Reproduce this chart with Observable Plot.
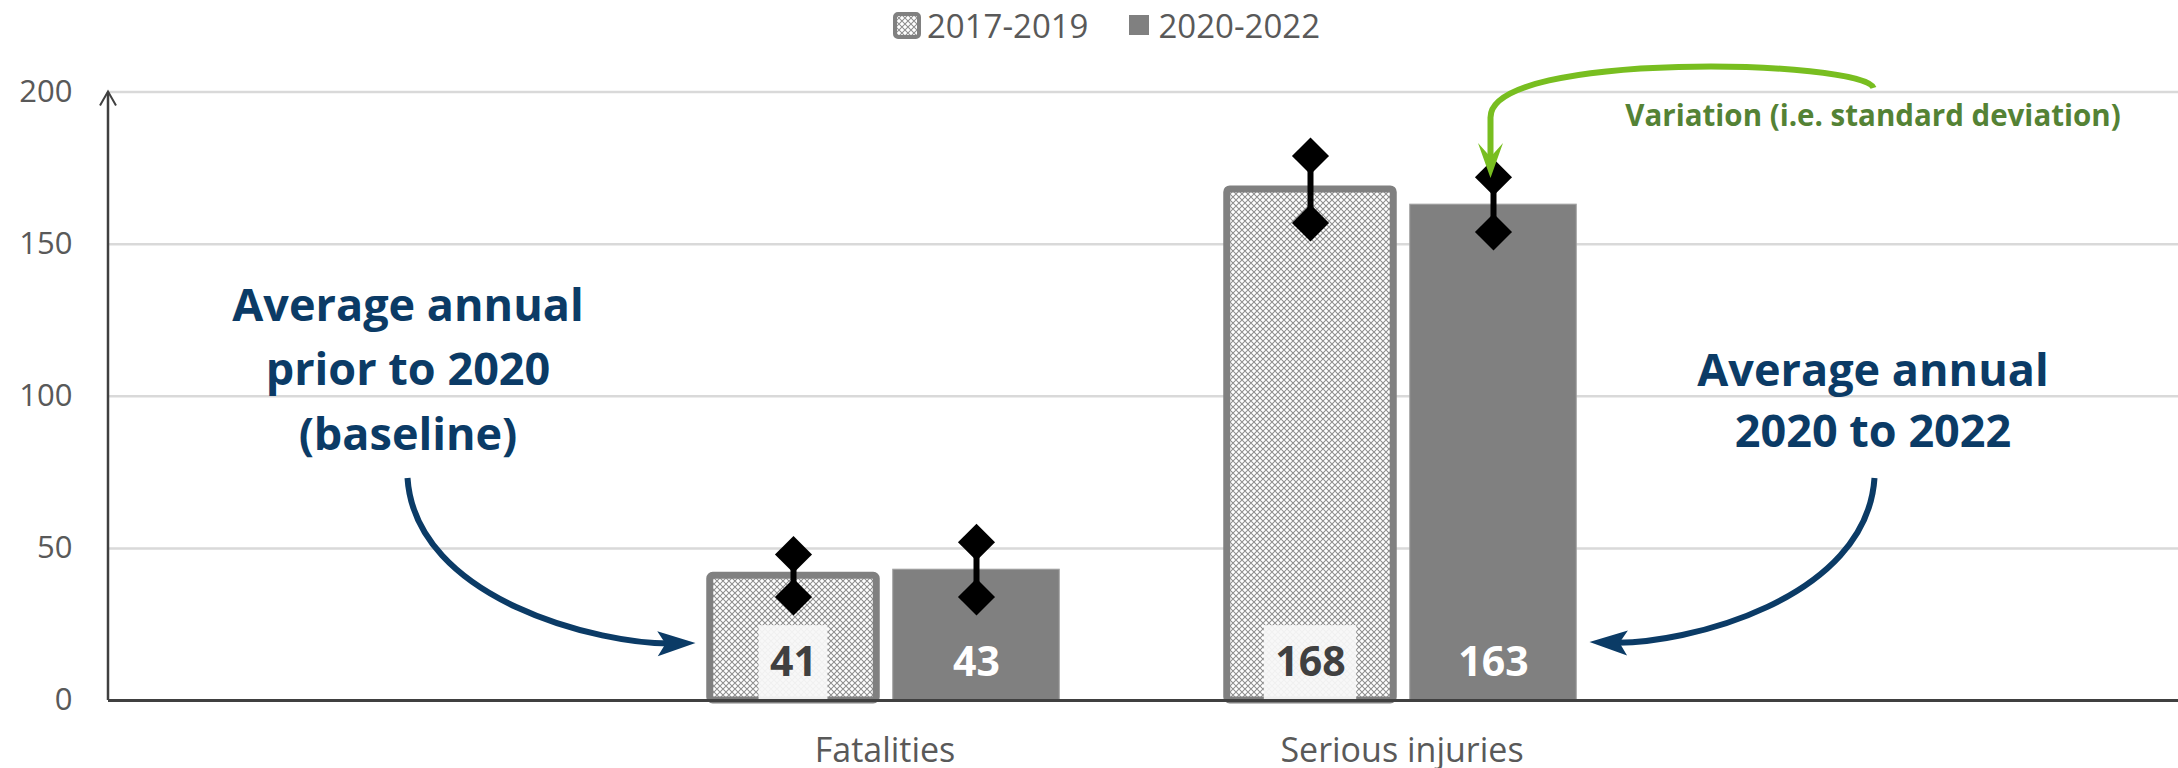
<!DOCTYPE html>
<html>
<head>
<meta charset="utf-8">
<script src="https://cdn.jsdelivr.net/npm/d3@7"></script>
<script src="https://cdn.jsdelivr.net/npm/@observablehq/plot@0.6"></script>
<style>
  html, body { margin: 0; padding: 0; background: #fff; }
  body { width: 2178px; height: 768px; overflow: hidden; font-family: "Open Sans", sans-serif; }
  #legend { height: 50px; display: flex; align-items: center; justify-content: center; padding-left: 35px; box-sizing: border-box; font-size: 33px; color: #595959; }
  #legend svg { display: block; }
  #legend .s1 { margin-right: 6px; }
  #legend .t1 { margin-right: 40px; }
  #legend .s2 { margin-right: 10px; }
</style>
</head>
<body>
<div id="legend"></div>
<div id="chart"></div>
<script>
// ---------- data ----------
const categories = ["Fatalities", "Serious injuries"];
const series = ["2017-2019", "2020-2022"];
const avg2017to2019 = [41, 168];
const avg2020to2022 = [43, 163];
const sd2017to2019 = [7, 11];
const sd2020to2022 = [9, 9];
const yTicks = [0, 50, 100, 150, 200];

// ---------- annotation texts ----------
const noteBaselineText = "Average annual\nprior to 2020\n(baseline)";
const noteRecentText = "Average annual\n2020 to 2022";
const noteVariationText = "Variation (i.e. standard deviation)";

// ---------- rows built from the arrays ----------
const rowsA = categories.map((c, i) => ({category: c, series: series[0], value: avg2017to2019[i], low: avg2017to2019[i] - sd2017to2019[i], high: avg2017to2019[i] + sd2017to2019[i]}));
const rowsB = categories.map((c, i) => ({category: c, series: series[1], value: avg2020to2022[i], low: avg2020to2022[i] - sd2020to2022[i], high: avg2020to2022[i] + sd2020to2022[i]}));

// ---------- layout ----------
const W = 2178, H = 718, ML = 108, MR = 0, MT = 41.6, MB = 68;
const padL = "pad-left", padR = "pad-right";
const xDomain = [padL, ...categories, padR];
const band = (W - ML - MR) / xDomain.length;
const barW = 167, offset = 91.5;
const nearInset = band / 2 - offset - barW / 2;
const farInset = band / 2 + offset - barW / 2;

const blue = "#0b3b66", green = "#78be20", greenText = "#548235";

const hatchDef = `<pattern id="hatch" patternUnits="userSpaceOnUse" width="6" height="6"><rect width="6" height="6" fill="#ffffff"/><path d="M-1,-1L7,7M7,-1L-1,7" stroke="#8f8f8f" stroke-width="1.05"/></pattern>`;

// ---------- legend (HTML, above the SVG) ----------
document.getElementById("legend").innerHTML = `
  <svg class="s1" width="28" height="27"><defs>${hatchDef.replace('id="hatch"','id="hatchL"')}</defs>
    <rect x="2" y="2" width="24" height="23" rx="3" fill="url(#hatchL)" stroke="#808080" stroke-width="4"/></svg>
  <span class="t1">${series[0]}</span>
  <svg class="s2" width="20" height="20"><rect width="20" height="20" fill="#808080"/></svg>
  <span>${series[1]}</span>`;

// ---------- helper marks ----------
function labelBoxes(index, scales) {
  const bw = scales.x.bandwidth ? scales.x.bandwidth() : band;
  const g = d3.create("svg:g");
  for (const d of rowsA) {
    const cx = scales.x(d.category) + bw / 2 - offset;
    const w = 0.572 * 41 * String(d.value).length + 22;
    const y0 = scales.y(0), y1 = scales.y(24.6);
    g.append("rect").attr("x", cx - w / 2).attr("y", y1).attr("width", w).attr("height", y0 - y1)
      .attr("fill", "#f8f8f8").attr("fill-opacity", 0.93);
  }
  return g.node();
}

function arrowHead(g, tip, angle, len, hw, notch, color) {
  const pts = [[0, 0], [-len, hw], [-len + notch, 0], [-len, -hw]];
  g.append("path")
    .attr("d", "M" + pts.map(p => p.join(",")).join("L") + "Z")
    .attr("transform", `translate(${tip[0]},${tip[1]}) rotate(${angle * 180 / Math.PI})`)
    .attr("fill", color);
}

function annotations(index, scales, values, dims) {
  const bw = scales.x.bandwidth ? scales.x.bandwidth() : band;
  const P = ([c, dx, v]) => [scales.x(c) + bw / 2 + dx, scales.y(v)];
  const g = d3.create("svg:g");
  // y axis line with arrow
  const x0 = dims.marginLeft, yb = scales.y(0), yt = scales.y(200);
  g.append("path").attr("d", `M${x0},${yb}L${x0},${yt + 1}`).attr("stroke", "#404040").attr("stroke-width", 2.5).attr("fill", "none");
  g.append("path").attr("d", `M${x0 - 8},${yt + 14}L${x0},${yt}L${x0 + 8},${yt + 14}`).attr("stroke", "#404040").attr("stroke-width", 2).attr("fill", "none");

  // curved blue arrows
  const curves = [
    [[padL, 40, 73], [padL, 48, 32.9], [categories[0], -284, 18.1], [categories[0], -189, 18.7]],
    [[padR, -44, 73], [padR, -52, 32.9], [categories[1], 283, 18.1], [categories[1], 188, 19.1]]
  ];
  for (const c of curves) {
    const [s, c1, c2, tip] = c.map(P);
    const ang = Math.atan2(tip[1] - c2[1], tip[0] - c2[0]);
    const e = [tip[0] - 22 * Math.cos(ang), tip[1] - 22 * Math.sin(ang)];
    g.append("path").attr("d", `M${s}C${c1} ${c2} ${e}`).attr("stroke", blue).attr("stroke-width", 6).attr("fill", "none");
    arrowHead(g, tip, ang, 38, 12.5, 8, blue);
  }

  // green arrow
  const gs = P([padR, -45, 201.2]), g1 = P([padR, -54, 210.4]), g2 = P([categories[1], 89, 213.7]),
        ge = P([categories[1], 89, 191.5]), gt = P([categories[1], 89, 171.6]);
  const ga = Math.atan2(gt[1] - ge[1], gt[0] - ge[0]);
  const gb = [gt[0] - 20 * Math.cos(ga), gt[1] - 20 * Math.sin(ga)];
  g.append("path").attr("d", `M${gs}C${g1} ${g2} ${ge}L${gb}`).attr("stroke", green).attr("stroke-width", 6).attr("fill", "none");
  arrowHead(g, gt, ga, 35, 12.5, 14, green);
  return g.node();
}

// ---------- plot ----------
const svg = Plot.plot({
  width: W, height: H,
  marginLeft: ML, marginRight: MR, marginTop: MT, marginBottom: MB,
  style: {fontFamily: '"Open Sans", sans-serif', background: "#fff", overflow: "visible"},
  x: {type: "band", domain: xDomain, padding: 0, label: null},
  y: {domain: [0, 200], label: null},
  marks: [
    Plot.ruleY(yTicks.filter(d => d > 0), {stroke: "#d9d9d9", strokeWidth: 2.5}),
    Plot.barY(rowsA, {x: "category", y: "value", fill: "url(#hatch)", stroke: "#808080", strokeWidth: 7, rx: 3, insetLeft: nearInset, insetRight: farInset}),
    Plot.barY(rowsB, {x: "category", y: "value", fill: "#808080", stroke: "#a0a0a0", strokeWidth: 1, insetLeft: farInset, insetRight: nearInset}),
    labelBoxes,
    Plot.text(rowsA, {x: "category", y: 0, dx: -offset, dy: -38, text: d => String(d.value), fill: "#404040", fontSize: 41, fontWeight: 700, lineAnchor: "middle"}),
    Plot.text(rowsB, {x: "category", y: 0, dx: offset, dy: -38, text: d => String(d.value), fill: "#ffffff", fontSize: 41, fontWeight: 700, lineAnchor: "middle"}),
    Plot.ruleX(rowsA, {x: "category", y1: "low", y2: "high", dx: -offset, stroke: "#000", strokeWidth: 6}),
    Plot.ruleX(rowsB, {x: "category", y1: "low", y2: "high", dx: offset, stroke: "#000", strokeWidth: 6}),
    Plot.dot(rowsA, {x: "category", y: "low", dx: -offset, symbol: "diamond2", r: 16.7, fill: "#000"}),
    Plot.dot(rowsA, {x: "category", y: "high", dx: -offset, symbol: "diamond2", r: 16.7, fill: "#000"}),
    Plot.dot(rowsB, {x: "category", y: "low", dx: offset, symbol: "diamond2", r: 16.7, fill: "#000"}),
    Plot.dot(rowsB, {x: "category", y: "high", dx: offset, symbol: "diamond2", r: 16.7, fill: "#000"}),
    Plot.ruleY([0], {stroke: "#404040", strokeWidth: 3}),
    Plot.axisY({ticks: yTicks, tickSize: 0, tickPadding: 36, fontSize: 31, fill: "#595959", label: null}),
    Plot.axisX({tickSize: 0, tickPadding: 37, fontSize: 34, fill: "#595959", label: null, tickFormat: d => categories.includes(d) ? d : ""}),
    Plot.text([noteBaselineText], {x: () => padL, y: 110.4, dx: 40, text: d => d, fill: blue, fontSize: 45, fontWeight: 700, lineHeight: 1.44, lineAnchor: "middle"}),
    Plot.text([noteRecentText], {x: () => padR, y: 99.7, dx: -46, text: d => d, fill: blue, fontSize: 45, fontWeight: 700, lineHeight: 1.36, lineAnchor: "middle"}),
    Plot.text([noteVariationText], {x: () => padR, y: 191.8, dx: -46, text: d => d, fill: greenText, fontSize: 29.5, fontWeight: 700, lineAnchor: "middle"}),
    annotations
  ]
});
d3.select(svg).insert("defs", ":first-child").html(hatchDef);
document.getElementById("chart").appendChild(svg);
</script>
</body>
</html>
